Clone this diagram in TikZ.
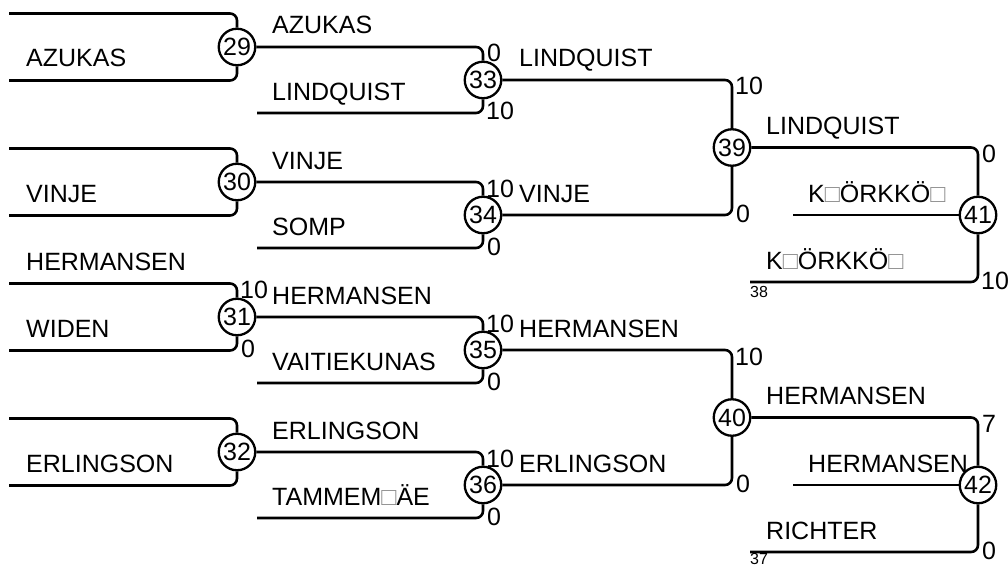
\documentclass[tikz,border=0pt]{standalone}
\usepackage{fontspec}
\setmainfont{Liberation Sans}
\newcommand\nb{\textcolor{black!45}{□}}
\begin{document}
\begin{tikzpicture}[x=1pt,y=-1pt,
  ln/.style={line width=2.6pt, rounded corners=7pt},
  circ/.style={circle, draw, line width=2.3pt, minimum size=36.5pt, inner sep=0pt, font=\fontsize{25}{25}\selectfont},
  nm/.style={anchor=base west, inner sep=0pt, font=\fontsize{25}{25}\selectfont},
  sc/.style={anchor=base west, inner sep=0pt, font=\fontsize{25}{25}\selectfont},
  sm/.style={anchor=base west, inner sep=0pt, font=\fontsize{16}{16}\selectfont}]
\useasboundingbox (0,0) rectangle (1008,567);
% circles
\node[circ] (c29) at (237,47) {29};
\node[circ] (c30) at (237,182) {30};
\node[circ] (c31) at (237,317) {31};
\node[circ] (c32) at (237,452) {32};
\node[circ] (c33) at (483,80) {33};
\node[circ] (c34) at (483,215) {34};
\node[circ] (c35) at (483,350) {35};
\node[circ] (c36) at (483,485) {36};
\node[circ] (c39) at (732,147.5) {39};
\node[circ] (c40) at (732,417.5) {40};
\node[circ] (c41) at (978,215) {41};
\node[circ] (c42) at (978,485) {42};
% free ends
\coordinate (t29) at (9,13.5);  \coordinate (b29) at (9,80.5);
\coordinate (t30) at (9,148.5); \coordinate (b30) at (9,215.5);
\coordinate (t31) at (9,283.5); \coordinate (b31) at (9,350.5);
\coordinate (t32) at (9,418.5); \coordinate (b32) at (9,485.5);
\coordinate (b33) at (257,113); \coordinate (b34) at (257,248);
\coordinate (b35) at (257,383); \coordinate (b36) at (257,518);
\coordinate (b41) at (750,282); \coordinate (m41) at (793,215);
\coordinate (b42) at (750,552); \coordinate (m42) at (793,485);
% connectors
\foreach \m in {29,30,31,32}{
  \draw[ln] (t\m) -| (c\m.north);
  \draw[ln] (b\m) -| (c\m.south);
}
\draw[ln] (c29.east) -| (c33.north);
\draw[ln] (b33) -| (c33.south);
\draw[ln] (c30.east) -| (c34.north);
\draw[ln] (b34) -| (c34.south);
\draw[ln] (c31.east) -| (c35.north);
\draw[ln] (b35) -| (c35.south);
\draw[ln] (c32.east) -| (c36.north);
\draw[ln] (b36) -| (c36.south);
\draw[ln] (c33.east) -| (c39.north);
\draw[ln] (c34.east) -| (c39.south);
\draw[ln] (c35.east) -| (c40.north);
\draw[ln] (c36.east) -| (c40.south);
\draw[ln] (c39.east) -| (c41.north);
\draw[ln] (b41) -| (c41.south);
\draw[ln] (m41) -- (c41.west);
\draw[ln] (c40.east) -| (c42.north);
\draw[ln] (b42) -| (c42.south);
\draw[ln] (m42) -- (c42.west);
% names column 0
\node[nm] (n1) at (26,67) {AZUKAS};
\node[nm] (n2) at (26,202) {VINJE};
\node[nm] (n3) at (26,270) {HERMANSEN};
\node[nm] (n4) at (26,337) {WIDEN};
\node[nm] (n5) at (26,472) {ERLINGSON};
% column 1
\node[nm] (n6) at (272,34) {AZUKAS};
\node[nm] (n7) at (272,100) {LINDQUIST};
\node[nm] (n8) at (272,169) {VINJE};
\node[nm] (n9) at (272,235) {SOMP};
\node[nm] (n10) at (272,304) {HERMANSEN};
\node[nm] (n11) at (272,370) {VAITIEKUNAS};
\node[nm] (n12) at (272,439) {ERLINGSON};
\node[nm] (n13) at (272,505) {TAMMEM\nb ÄE};
% column 2
\node[nm] (n14) at (519,67) {LINDQUIST};
\node[nm] (n15) at (519,202) {VINJE};
\node[nm] (n16) at (519,337) {HERMANSEN};
\node[nm] (n17) at (519,472) {ERLINGSON};
% column 3
\node[nm] (n18) at (766,134.5) {LINDQUIST};
\node[nm] (n19) at (808,202) {K\nb ÖRKKÖ\nb};
\node[nm] (n20) at (766,269) {K\nb ÖRKKÖ\nb};
\node[nm] (n21) at (766,404.5) {HERMANSEN};
\node[nm] (n22) at (808,472) {HERMANSEN};
\node[nm] (n23) at (766,539) {RICHTER};
\node[sm] (s38) at (750,297) {38};
\node[sm] (s37) at (750,564.5) {37};
% scores
\node[sc] (p31a) at (240,298.5) {10};
\node[sc] (p31b) at (241,357.5) {0};
\node[sc] (p33a) at (487,62) {0};
\node[sc] (p33b) at (486,120) {10};
\node[sc] (p34a) at (486,197) {10};
\node[sc] (p34b) at (487,255) {0};
\node[sc] (p35a) at (486,332) {10};
\node[sc] (p35b) at (487,390) {0};
\node[sc] (p36a) at (486,467) {10};
\node[sc] (p36b) at (487,525) {0};
\node[sc] (p39a) at (735,95) {10};
\node[sc] (p39b) at (736,222) {0};
\node[sc] (p40a) at (735,365) {10};
\node[sc] (p40b) at (736,492) {0};
\node[sc] (p41a) at (982,162.5) {0};
\node[sc] (p41b) at (981,289) {10};
\node[sc] (p42a) at (982,432.5) {7};
\node[sc] (p42b) at (982,559) {0};
\end{tikzpicture}
\end{document}
